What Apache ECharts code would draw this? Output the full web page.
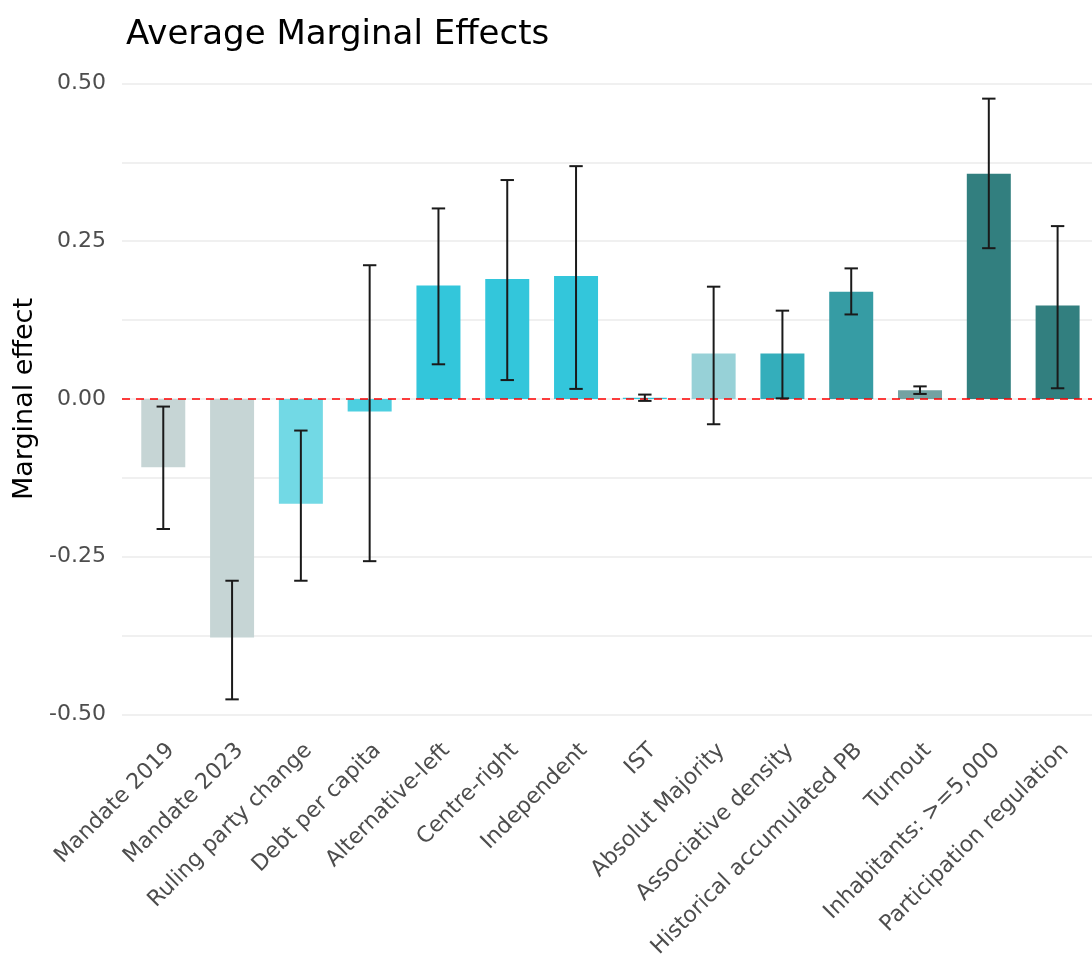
<!DOCTYPE html>
<html>
<head>
<meta charset="utf-8">
<script src="https://cdn.jsdelivr.net/npm/echarts@6/dist/echarts.min.js"></script>
<style>html,body{margin:0;padding:0;background:#fff;}#c{width:1092px;height:977px;}</style>
</head>
<body>
<div id="c"></div>
<script>
const categories = ["Mandate 2019","Mandate 2023","Ruling party change","Debt per capita","Alternative-left","Centre-right","Independent","IST","Absolut Majority","Associative density","Historical accumulated PB","Turnout","Inhabitants: >=5,000","Participation regulation"];
const effects = [-0.108,-0.378,-0.166,-0.020,0.180,0.190,0.195,0.002,0.072,0.072,0.170,0.014,0.357,0.148];
const lower = [-0.206,-0.476,-0.288,-0.257,0.055,0.030,0.016,-0.003,-0.040,0.001,0.134,0.008,0.239,0.017];
const upper = [-0.012,-0.288,-0.050,0.212,0.302,0.347,0.369,0.007,0.178,0.140,0.207,0.020,0.476,0.274];
const yTicks = [-0.5,-0.25,0,0.25,0.5];
const yGrid = [-0.5,-0.375,-0.25,-0.125,0,0.125,0.25,0.375,0.5];
const barColors = ["#c6d5d5","#c6d5d5","#72d9e5","#4ccfe0","#33c6db","#33c6db","#33c6db","#33c6db","#97d1d7","#34aebb","#369ca4","#73a2a2","#327f7f","#327f7f"];
const catIdx = categories.map((c,i)=>i);

const chart = echarts.init(document.getElementById('c'), null, {renderer:'canvas'});
const font = '"DejaVu Sans", sans-serif';
const option = {
  animation:false,
  backgroundColor:'#fff',
  title:{text:'Average Marginal Effects',left:121,top:13,textStyle:{fontFamily:font,fontSize:34,fontWeight:'normal',color:'#000'}},
  grid:{left:122,right:0,top:68.6,bottom:247.6,containLabel:false},
  xAxis:{
    type:'value',min:-0.6,max:13.5,
    axisLine:{show:false},axisTick:{show:false},splitLine:{show:false},
    axisLabel:{customValues:catIdx,rotate:45,margin:10,verticalAlign:'top',fontFamily:font,fontSize:22,color:'#4d4d4d',
      formatter:v=>categories[Math.round(v)]}
  },
  yAxis:{
    type:'value',min:-0.5236,max:0.5236,
    name:'Marginal effect',nameLocation:'middle',nameGap:84,nameRotate:90,
    nameTextStyle:{fontFamily:font,fontSize:27,color:'#000'},
    axisLine:{show:false},
    axisTick:{show:false,customValues:yGrid},
    axisLabel:{customValues:yTicks,margin:16,fontFamily:font,fontSize:22,color:'#4d4d4d',formatter:v=>v.toFixed(2)},
    splitLine:{show:true,lineStyle:{color:'#ebebeb',width:1.5}}
  },
  series:[
    {
      type:'bar',barWidth:44,
      data:effects.map((v,i)=>({value:[i,v],itemStyle:{color:barColors[i]}})),
      markLine:{silent:true,symbol:'none',label:{show:false},
        lineStyle:{color:'#ff0000',type:[8,6],width:1.6},
        data:[{yAxis:0}]}
    },
    {
      type:'custom',
      data:catIdx.map(i=>[i,lower[i],upper[i]]),
      encode:{x:0,y:[1,2]},
      z:5,
      renderItem:function(params,api){
        const i=api.value(0);
        const lo=api.coord([i,api.value(1)]);
        const hi=api.coord([i,api.value(2)]);
        const hw=6.7;
        const st={stroke:'#1a1a1a',lineWidth:2};
        return {type:'group',children:[
          {type:'line',shape:{x1:lo[0],y1:lo[1],x2:hi[0],y2:hi[1]},style:st},
          {type:'line',shape:{x1:lo[0]-hw,y1:lo[1],x2:lo[0]+hw,y2:lo[1]},style:st},
          {type:'line',shape:{x1:hi[0]-hw,y1:hi[1],x2:hi[0]+hw,y2:hi[1]},style:st}
        ]};
      }
    }
  ]
};
chart.setOption(option);
</script>
</body>
</html>
